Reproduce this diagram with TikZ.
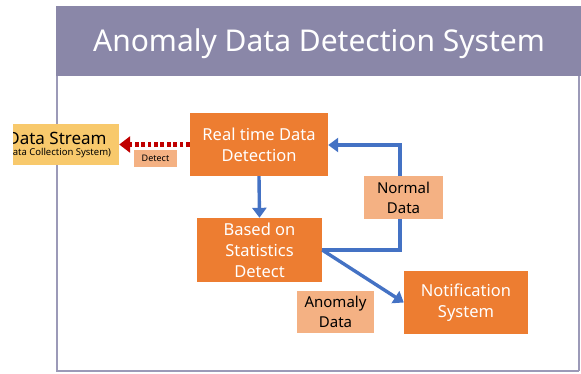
\documentclass[tikz,border=0pt]{standalone}
\usepackage{fontspec}
\setmainfont{Noto Sans}
\usetikzlibrary{arrows.meta}
\definecolor{hdr}{HTML}{8A87A8}
\definecolor{frm}{HTML}{9C9AB8}
\definecolor{org}{HTML}{ED7D31}
\definecolor{slm}{HTML}{F4B183}
\definecolor{ylw}{HTML}{F8C96C}
\definecolor{blu}{HTML}{4472C4}
\definecolor{drd}{HTML}{C00000}
\tikzset{
  obox/.style={rectangle, fill=org, text=white, align=center, inner sep=0pt, font=\fontsize{16.5}{21}\selectfont},
  lbl/.style={rectangle, fill=slm, text=black, align=center, inner sep=0pt, font=\fontsize{15}{20}\selectfont},
  barrow/.style={draw=blu, line width=3.4pt, -{Triangle[length=10pt,width=14pt]}},
  rarrow/.style={draw=drd, line width=4.2pt, dash pattern=on 3.8pt off 2.6pt, -{Triangle[length=11pt,width=16pt]}}
}
\begin{document}
\begin{tikzpicture}[x=1pt,y=-1pt]
\useasboundingbox (0,0) rectangle (581,373);
% slide frame
\fill[hdr] (56,6) rectangle (581,76);
\draw[frm, line width=2.2pt] (57,76) -- (57,371) -- (579,371);
\draw[frm, line width=1.2pt] (579,76) -- (579,371);
\node[text=white, font=\fontsize{30}{36}\selectfont] (title) at (319,44) {Anomaly Data Detection System};
% data stream (clipped at left)
\begin{scope}
\clip (13,0) rectangle (200,373);
\node[rectangle, fill=ylw, minimum width=124pt, minimum height=41pt, inner sep=0pt, align=center] (ds) at (57,144.5)
  {{\fontsize{17}{18}\selectfont Data Stream}\\[-1pt]{\fontsize{9.5}{11}\selectfont (Data Collection System)}};
\end{scope}
% boxes
\node[obox, minimum width=138pt, minimum height=63pt] (rt) at (259,144.5) {Real time Data\\Detection};
\node[obox, minimum width=125pt, minimum height=64pt] (bs) at (259.5,250) {Based on\\Statistics\\Detect};
\node[obox, minimum width=124pt, minimum height=63pt] (ns) at (466,302.5) {Notification\\System};
\coordinate (loop) at (400,145);
% connectors
\draw[rarrow] (rt.west) -- (ds.east);
\draw[barrow] (rt.south) -- (bs.north);
\draw[barrow] (bs.east) -- (bs.east -| loop) -- (loop) -- (loop -| rt.east);
\draw[barrow] (bs.east) -- (ns.west);
% labels
\node[lbl, minimum width=43pt, minimum height=17pt, font=\fontsize{9}{10}\selectfont] (det) at (155.5,158.5) {Detect};
\node[lbl, minimum width=79pt, minimum height=43pt] (nd) at (403.5,197.5) {Normal\\Data};
\node[lbl, minimum width=77pt, minimum height=42pt] (ad) at (335.5,312) {Anomaly\\Data};
\end{tikzpicture}
\end{document}
